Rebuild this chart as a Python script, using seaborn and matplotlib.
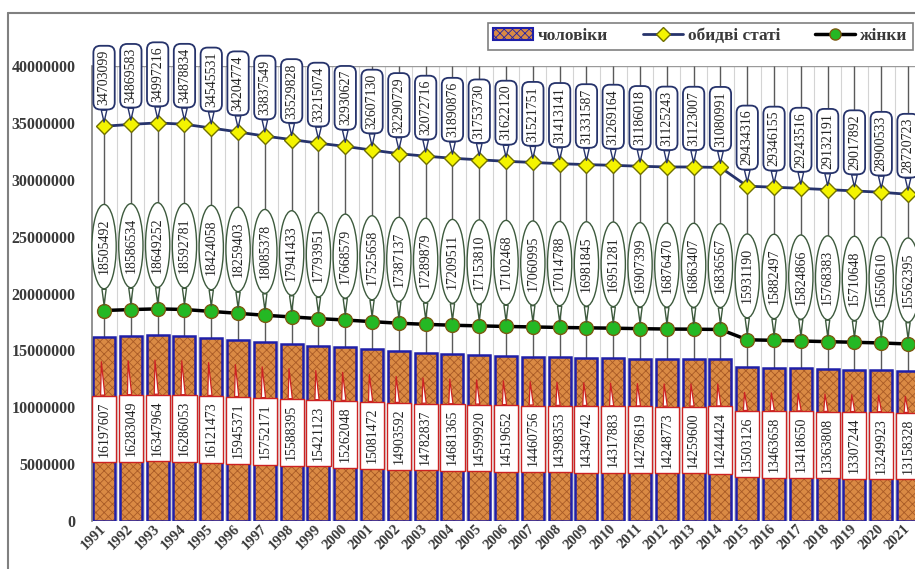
import numpy as np
import pandas as pd
import seaborn as sns
import matplotlib.pyplot as plt
from matplotlib.patches import Rectangle, Patch
from matplotlib.lines import Line2D

years = [str(y) for y in range(1991, 2022)]

both = [34703099, 34869583, 34997216, 34878834, 34545531, 34204774, 33837549,
        33529828, 33215074, 32930627, 32607130, 32290729, 32072716, 31890876,
        31753730, 31622120, 31521751, 31413141, 31331587, 31269164, 31186018,
        31125243, 31123007, 31080991, 29434316, 29346155, 29243516, 29132191,
        29017892, 28900533, 28720723]

women = [18505492, 18586534, 18649252, 18592781, 18424058, 18259403, 18085378,
         17941433, 17793951, 17668579, 17525658, 17387137, 17289879, 17209511,
         17153810, 17102468, 17060995, 17014788, 16981845, 16951281, 16907399,
         16876470, 16863407, 16836567, 15931190, 15882497, 15824866, 15768383,
         15710648, 15650610, 15562395]

men = [16197607, 16283049, 16347964, 16286053, 16121473, 15945371, 15752171,
       15588395, 15421123, 15262048, 15081472, 14903592, 14782837, 14681365,
       14599920, 14519652, 14460756, 14398353, 14349742, 14317883, 14278619,
       14248773, 14259600, 14244424, 13503126, 13463658, 13418650, 13363808,
       13307244, 13249923, 13158328]

yticks = list(range(0, 40000001, 5000000))

df = pd.DataFrame({'year': years, 'both': both, 'women': women, 'men': men})
df['pos'] = np.arange(len(df))

sns.set_theme(style='white')
plt.rcParams['font.family'] = ['Liberation Serif', 'DejaVu Serif']
plt.rcParams['hatch.linewidth'] = 0.6

BAR_FC = '#da8a44'
BAR_HATCH = '#a85a26'
BAR_EDGE = '#1f1fa8'
NAVY = '#26336b'
TXT = '#3a3a3a'

fig = plt.figure(figsize=(9.15, 5.69), dpi=100)
ax = fig.add_axes([92 / 915, 1 - 521 / 569, (915 - 92) / 915, 455 / 569])

# outer chart border (only top and left visible in the crop)
fig.add_artist(Line2D([8 / 915, 8 / 915], [0, 1 - 13 / 569], transform=fig.transFigure,
                      color='#808080', lw=1.5))
fig.add_artist(Line2D([8 / 915, 1], [1 - 13 / 569, 1 - 13 / 569], transform=fig.transFigure,
                      color='#808080', lw=1.5))

# light grid between categories and dark drop lines at the centres
ax.vlines(df['pos'] + 0.5, 0, 40e6, color='#d4d4d4', lw=0.8, zorder=0.5)
ax.vlines(df['pos'], df['men'], 40e6, color='#5a5a5a', lw=1.0, zorder=0.8)
ax.axhline(40e6, color='#9a9a9a', lw=1, zorder=0.6)

# men bars with checker texture
sns.barplot(data=df, x='year', y='men', ax=ax, color=BAR_FC, width=0.82,
            edgecolor=BAR_HATCH, linewidth=0, hatch='xxxx', saturation=1, zorder=1)
for p in list(ax.patches):
    ax.add_patch(Rectangle((p.get_x(), 0), p.get_width(), p.get_height(), fill=False,
                           edgecolor=BAR_EDGE, lw=1.8, zorder=2))

# lines
sns.lineplot(data=df, x='pos', y='both', ax=ax, color=NAVY, lw=2, marker='D',
             markersize=8, markerfacecolor='#f4f400', markeredgecolor='#707000',
             markeredgewidth=1, zorder=3)
sns.lineplot(data=df, x='pos', y='women', ax=ax, color='black', lw=2.5, marker='o',
             markersize=10, markerfacecolor='#24b824', markeredgecolor='#7a5a10',
             markeredgewidth=1, zorder=3)

# value callouts
for i, r in df.iterrows():
    ax.annotate(str(r['both']), xy=(i, r['both']), xytext=(0, 35), textcoords='offset points',
                rotation=90, ha='center', va='center', fontsize=10, color='#222',
                bbox=dict(boxstyle='round,pad=0.3,rounding_size=0.5', fc='white',
                          ec=NAVY, lw=1.3),
                arrowprops=dict(arrowstyle='wedge,tail_width=0.4', fc='white', ec=NAVY,
                                lw=1, shrinkA=0, shrinkB=3),
                zorder=6, annotation_clip=False)
    ax.annotate(str(r['women']), xy=(i, r['women']), xytext=(0, 46), textcoords='offset points',
                rotation=90, ha='center', va='center', fontsize=10, color='#222',
                bbox=dict(boxstyle='ellipse,pad=0.15', fc='white', ec='#3d5a3d', lw=1),
                arrowprops=dict(arrowstyle='wedge,tail_width=0.3', fc='white', ec='#3d5a3d',
                                lw=1, shrinkA=0, shrinkB=4),
                zorder=6, annotation_clip=False)
    ax.annotate(str(r['men']), xy=(i - 0.1, r['men'] - 2.2e6), xytext=(i, r['men'] / 2),
                textcoords='data', rotation=90, ha='center', va='center', fontsize=10,
                color='#222',
                bbox=dict(boxstyle='square,pad=0.4', fc='white', ec='#cc2222', lw=1),
                arrowprops=dict(arrowstyle='wedge,tail_width=0.3', fc='white', ec='#cc2222',
                                lw=0.9, shrinkA=0, shrinkB=0),
                zorder=5)

ax.set_xlim(-0.45, 30.26)
ax.set_ylim(0, 40e6)
ax.set_yticks(yticks)
ax.set_yticklabels([str(v) for v in yticks])
ax.set_xlabel('')
ax.set_ylabel('')
ax.tick_params(axis='y', length=0, pad=12, labelsize=11.5, labelcolor=TXT)
ax.tick_params(axis='x', length=0, pad=4, labelsize=10.5, labelcolor=TXT)
for t in ax.get_yticklabels():
    t.set_fontweight('bold')
for t in ax.get_xticklabels():
    t.set_fontweight('bold')
    t.set_rotation(45)
    t.set_ha('right')
    t.set_va('center')
    t.set_rotation_mode('anchor')

for s in ['top', 'right', 'bottom']:
    ax.spines[s].set_visible(False)
ax.spines['left'].set_color('#808080')
ax.spines['left'].set_linewidth(1.2)

handles = [
    Patch(facecolor=BAR_FC, edgecolor=BAR_EDGE, hatch='xxxx', lw=1.5),
    Line2D([], [], color=NAVY, lw=2, marker='D', markersize=7, markerfacecolor='#f4f400',
           markeredgecolor='#707000'),
    Line2D([], [], color='black', lw=2.5, marker='o', markersize=8, markerfacecolor='#24b824',
           markeredgecolor='#7a5a10'),
]
leg = fig.legend(handles, ['чоловіки', 'обидві статі', 'жінки'], ncol=3,
                 loc='upper right', bbox_to_anchor=(913 / 915, 1 - 23 / 569),
                 fancybox=False, edgecolor='#808080', framealpha=1,
                 prop={'weight': 'bold', 'size': 12.5}, handlelength=2.3,
                 handletextpad=0.3, columnspacing=2.0, borderpad=0.3, borderaxespad=0)
leg.get_frame().set_linewidth(1.2)
for t in leg.get_texts():
    t.set_color(TXT)

fig.savefig('out.png', dpi=100)
